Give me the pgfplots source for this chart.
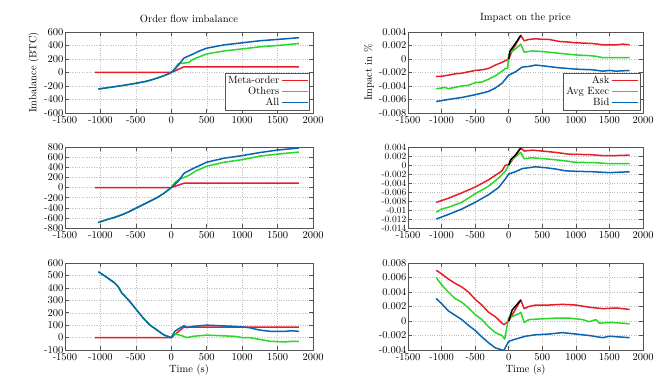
\documentclass[border=0pt]{standalone}
\usepackage{pgfplots}
\pgfplotsset{compat=1.18}
\definecolor{cred}{RGB}{230,30,40}
\definecolor{cgreen}{RGB}{40,215,40}
\definecolor{cblue}{RGB}{10,100,175}
\definecolor{frame}{RGB}{85,85,85}

\pgfplotsset{
  gp/.style={
    scale only axis, anchor=north west,
    xmin=-1500, xmax=2000, xtick={-1500,-1000,...,2000},
    grid=major, grid style={dotted, gray!50, line width=0.4pt},
    axis line style={frame, line width=0.9pt},
    tick align=inside, major tick length=4pt,
    tick style={frame, line width=0.5pt},
    tick label style={font=\fontsize{10.5}{12}\selectfont},
    yticklabel style={inner ysep=0pt, inner xsep=1.5pt},
    xticklabel style={inner ysep=0.5pt, yshift=-3pt},
    label style={font=\fontsize{10.5}{12}\selectfont},
    title style={font=\fontsize{10.5}{12}\selectfont},
    /pgf/number format/assume math mode=true,
    /pgf/number format/1000 sep={},
    scaled y ticks=false,
    every axis plot/.append style={line width=1.5pt, line join=round},
    legend cell align=right, legend plot pos=right,
    legend image code/.code={\draw[#1, line width=1.5pt] (0pt,0pt) -- (26pt,0pt);},
    legend style={draw=frame, line width=0.6pt, at={(rel axis cs:0.988,0.035)}, anchor=south east,
      inner sep=1pt, row sep=-2pt, font=\fontsize{10.5}{12}\selectfont},
  },
  lcol/.style={gp, width=248pt},
  rcol/.style={gp, width=235pt,
    yticklabel style={/pgf/number format/fixed, /pgf/number format/precision=3}},
}

\begin{document}
\begin{tikzpicture}
\useasboundingbox (0pt,0pt) rectangle (660pt,-385pt);

% ---------- left column: order flow imbalance
\begin{axis}[lcol, at={(65pt,-32pt)}, height=81pt,
  ymin=-600, ymax=600, ytick={-600,-400,...,600},
  title={Order flow imbalance}, ylabel={Imbalance (BTC)}]
\addplot[cred] coordinates {(-1080,0)(0,0)(180,85)(1800,85)};
\addlegendentry{Meta-order}
\addplot[cgreen] coordinates {(-1030,-245)(-900,-225)(-700,-195)(-500,-160)(-350,-130)(-250,-100)(-150,-65)(-50,-25)
  (0,0)(50,60)(100,130)(180,140)(250,150)(300,190)(400,235)(500,275)(750,320)(1000,350)(1250,380)(1500,400)(1800,430)};
\addlegendentry{Others}
\addplot[cblue] coordinates {(-1030,-245)(-900,-225)(-700,-195)(-500,-160)(-350,-130)(-250,-100)(-150,-65)(-50,-25)
  (0,0)(50,50)(100,110)(180,215)(300,270)(400,320)(500,360)(750,410)(1000,440)(1250,470)(1500,490)(1800,515)};
\addlegendentry{All}
\end{axis}

\begin{axis}[lcol, at={(65pt,-147pt)}, height=81pt,
  ymin=-800, ymax=800, ytick={-800,-600,...,800}]
\addplot[cred] coordinates {(-1080,0)(0,0)(180,85)(1800,85)};
\addplot[cgreen] coordinates {(-1030,-690)(-900,-630)(-800,-590)(-700,-540)(-600,-480)(-400,-340)(-200,-200)(-100,-110)
  (0,0)(50,100)(100,150)(180,200)(250,240)(350,330)(500,420)(750,500)(1000,550)(1250,620)(1500,660)(1800,700)};
\addplot[cblue] coordinates {(-1030,-690)(-900,-630)(-800,-590)(-700,-540)(-600,-480)(-400,-340)(-200,-200)(-100,-110)
  (0,0)(50,60)(100,130)(180,280)(300,370)(500,500)(750,580)(1000,630)(1250,690)(1500,740)(1800,780)};
\end{axis}

\begin{axis}[lcol, at={(65pt,-263pt)}, height=87pt,
  ymin=-100, ymax=600, ytick={-100,0,...,600}, xlabel={Time (s)}]
\addplot[cred] coordinates {(-1080,0)(0,0)(180,85)(1800,85)};
\addplot[cgreen] coordinates {(-1030,530)(-950,500)(-900,480)(-850,460)(-800,440)(-750,410)(-700,360)(-600,300)(-500,230)(-400,160)(-300,100)(-200,60)(-100,20)
  (0,0)(50,30)(150,15)(220,0)(300,10)(500,20)(700,15)(900,10)(1000,0)(1100,0)(1300,-20)(1400,-30)(1600,-35)(1700,-30)(1800,-30)};
\addplot[cblue] coordinates {(-1030,530)(-950,500)(-900,480)(-850,460)(-800,440)(-750,410)(-700,360)(-600,300)(-500,230)(-400,160)(-300,100)(-200,60)(-100,20)
  (0,0)(50,50)(100,70)(180,95)(220,80)(300,90)(500,100)(700,95)(900,90)(1000,85)(1100,80)(1250,60)(1400,50)(1600,50)(1700,55)(1800,50)};
\end{axis}

% ---------- right column: impact on the price
\begin{axis}[rcol, at={(408pt,-32pt)}, height=81pt,
  ymin=-0.008, ymax=0.004, ytick={-0.008,-0.006,-0.004,-0.002,0,0.002,0.004},
  title={Impact on the price}, ylabel={Impact in \%}]
\addplot[cred] coordinates {(-1080,-0.0026)(-1000,-0.00255)(-900,-0.0024)(-800,-0.0022)(-700,-0.0021)(-600,-0.0019)(-500,-0.0017)(-400,-0.0016)(-300,-0.0014)(-200,-0.0009)(-100,-0.0005)
  (0,0)(50,0.0012)(180,0.0035)(230,0.0027)(300,0.0029)(400,0.0030)(500,0.0029)(600,0.0029)(750,0.0026)(900,0.0025)(1000,0.0024)(1250,0.0023)(1400,0.0021)(1600,0.0021)(1700,0.0022)(1800,0.0021)};
\addlegendentry{Ask}
\addplot[cgreen] coordinates {(-1080,-0.0044)(-1000,-0.0043)(-950,-0.0042)(-900,-0.0044)(-800,-0.0042)(-700,-0.0040)(-600,-0.0039)(-500,-0.0035)(-400,-0.0034)(-300,-0.0030)(-200,-0.0025)(-100,-0.0018)(-50,-0.0014)(-15,-0.0014)
  (0,0.0007)(100,0.0015)(180,0.0022)(230,0.0010)(350,0.0012)(500,0.0011)(700,0.0009)(1000,0.0006)(1200,0.0005)(1300,0.0004)(1400,0.0002)(1500,0.0002)(1800,0.0002)};
\addlegendentry{Avg Exec}
\addplot[cblue] coordinates {(-1080,-0.0063)(-900,-0.0060)(-700,-0.0057)(-500,-0.0053)(-300,-0.0048)(-200,-0.0043)(-100,-0.0036)(-50,-0.0030)
  (0,-0.0024)(100,-0.0019)(200,-0.0012)(300,-0.0011)(400,-0.0009)(500,-0.0010)(750,-0.0013)(1000,-0.0015)(1250,-0.0016)(1400,-0.0018)(1500,-0.0017)(1600,-0.0018)(1800,-0.0017)};
\addlegendentry{Bid}
\addplot[black, forget plot] coordinates {(0,0)(20,0.0012)(100,0.0023)(180,0.0035)};
\end{axis}

\begin{axis}[rcol, at={(408pt,-147pt)}, height=81pt,
  ymin=-0.014, ymax=0.004, ytick={-0.014,-0.012,-0.01,-0.008,-0.006,-0.004,-0.002,0,0.002,0.004},
  yticklabel style={font=\fontsize{9.5}{10}\selectfont}]
\addplot[cred] coordinates {(-1080,-0.0083)(-900,-0.0074)(-700,-0.0062)(-500,-0.0049)(-300,-0.0033)(-100,-0.0013)(-50,0)
  (0,0)(180,0.0038)(230,0.0031)(350,0.0033)(500,0.0031)(700,0.0028)(900,0.0024)(1200,0.0023)(1400,0.0021)(1600,0.0021)(1800,0.0022)};
\addplot[cgreen] coordinates {(-1080,-0.0105)(-1000,-0.0098)(-900,-0.0094)(-700,-0.0083)(-500,-0.0064)(-300,-0.0047)(-150,-0.0029)(-50,-0.0014)
  (0,0)(30,0.0010)(180,0.0028)(230,0.0014)(350,0.0016)(600,0.0013)(800,0.0010)(1000,0.0006)(1300,0.0005)(1500,0.0003)(1800,0.0003)};
\addplot[cblue] coordinates {(-1080,-0.0120)(-900,-0.0110)(-700,-0.0098)(-500,-0.0083)(-300,-0.0066)(-150,-0.0050)(-50,-0.0031)
  (0,-0.0020)(100,-0.0015)(200,-0.0008)(300,-0.0006)(400,-0.0004)(550,-0.0006)(700,-0.0009)(850,-0.0013)(1000,-0.0014)(1250,-0.0015)(1500,-0.0017)(1800,-0.0015)};
\addplot[black] coordinates {(0,0)(30,0.0012)(100,0.0022)(180,0.0038)};
\end{axis}

\begin{axis}[rcol, at={(408pt,-263pt)}, height=87pt,
  ymin=-0.004, ymax=0.008, ytick={-0.004,-0.002,0,0.002,0.004,0.006,0.008}, xlabel={Time (s)}]
\addplot[cred] coordinates {(-1080,0.0070)(-1000,0.0065)(-900,0.0058)(-800,0.0052)(-700,0.0047)(-600,0.0040)(-500,0.0030)(-400,0.0022)(-300,0.0012)(-200,0.0006)(-100,-0.0003)(-70,-0.0005)
  (0,0)(180,0.0029)(230,0.0017)(300,0.0020)(400,0.0022)(600,0.0022)(800,0.0023)(1000,0.0022)(1200,0.0019)(1400,0.0017)(1600,0.0018)(1800,0.0016)};
\addplot[cgreen] coordinates {(-1080,0.0060)(-1000,0.0050)(-900,0.0040)(-800,0.0031)(-700,0.0026)(-600,0.0018)(-500,0.0009)(-400,0.0002)(-300,-0.0008)(-200,-0.0016)(-100,-0.0020)(-60,-0.0025)
  (0,0.0005)(50,0.0006)(150,0.0010)(180,0.0012)(230,-0.0002)(300,0.0002)(500,0.0003)(700,0.0004)(900,0.0004)(1100,0.0002)(1200,-0.0001)(1300,0.0002)(1350,-0.0003)(1500,-0.0002)(1700,-0.0003)(1800,-0.0004)};
\addplot[cblue] coordinates {(-1080,0.0031)(-1000,0.0024)(-900,0.0014)(-800,0.0008)(-700,0.0002)(-600,-0.0006)(-500,-0.0013)(-400,-0.0022)(-300,-0.0030)(-200,-0.0037)(-100,-0.0040)(-70,-0.0040)
  (0,-0.0028)(100,-0.0025)(250,-0.0021)(400,-0.0019)(600,-0.0018)(800,-0.0016)(1000,-0.0018)(1200,-0.0020)(1400,-0.0023)(1500,-0.0021)(1800,-0.0023)};
\addplot[black] coordinates {(0,0)(50,0.0015)(180,0.0029)};
\end{axis}
\end{tikzpicture}
\end{document}
